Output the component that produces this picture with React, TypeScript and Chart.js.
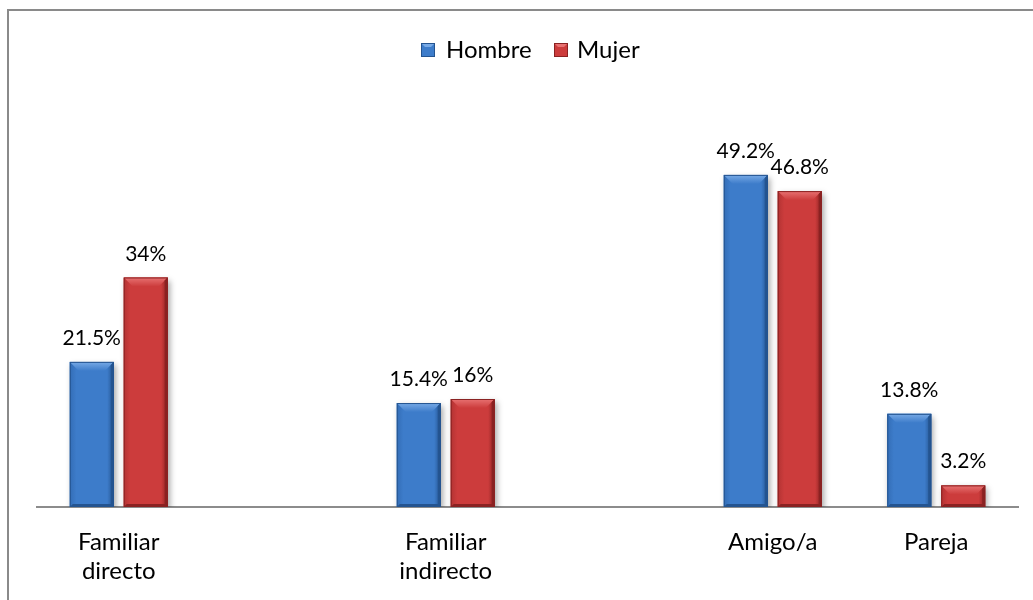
import React, { useEffect, useRef } from "react";
import { Chart, registerables } from "chart.js";

Chart.register(...registerables);

const categories: (string | string[])[] = [
  ["Familiar", "directo"],
  "",
  ["Familiar", "indirecto"],
  "",
  "Amigo/a",
  "Pareja",
];
const hombre: (number | null)[] = [21.5, null, 15.4, null, 49.2, 13.8];
const mujer: (number | null)[] = [34, null, 16, null, 46.8, 3.2];
const hombreLabels: string[] = ["21.5%", "", "15.4%", "", "49.2%", "13.8%"];
const mujerLabels: string[] = ["34%", "", "16%", "", "46.8%", "3.2%"];
const seriesNames = ["Hombre", "Mujer"];

const FONT = "Lato, 'Open Sans', sans-serif";
const FSIZE = 24;
const LABEL_SIZE = 21;

const palette = [
  { main: "#3d7cca", light: "#78aae6", dark: "#245490", side: "#336db6" },
  { main: "#cc3c3c", light: "#e87272", dark: "#8a2222", side: "#b33333" },
];

const bevelPlugin = {
  id: "bevel",
  beforeDatasetsDraw(chart: any) {
    const ctx = chart.ctx;
    ctx.save();
    ctx.shadowColor = "rgba(0,0,0,0.35)";
    ctx.shadowBlur = 6;
    ctx.shadowOffsetX = 2;
    ctx.shadowOffsetY = 3;
  },
  afterDatasetsDraw(chart: any) {
    const ctx = chart.ctx;
    ctx.restore();
    chart.data.datasets.forEach((ds: any, di: number) => {
      const meta = chart.getDatasetMeta(di);
      const c = palette[di];
      meta.data.forEach((bar: any, i: number) => {
        if (ds.data[i] == null) return;
        const { x, y, base, width } = bar.getProps(["x", "y", "base", "width"], true);
        const x0 = x - width / 2;
        const x1 = x + width / 2;
        const y0 = y;
        const y1 = base;
        const h = y1 - y0;
        const b = Math.min(9, h / 2, width / 2);
        ctx.save();
        const g = ctx.createLinearGradient(x0, 0, x1, 0);
        g.addColorStop(0, c.side);
        g.addColorStop(0.15, c.main);
        g.addColorStop(0.85, c.main);
        g.addColorStop(1, c.dark);
        ctx.fillStyle = g;
        ctx.fillRect(x0, y0, width, h);
        const tg = ctx.createLinearGradient(0, y0, 0, y0 + b);
        tg.addColorStop(0, c.light);
        tg.addColorStop(1, c.main);
        ctx.fillStyle = tg;
        ctx.beginPath();
        ctx.moveTo(x0, y0);
        ctx.lineTo(x1, y0);
        ctx.lineTo(x1 - b, y0 + b);
        ctx.lineTo(x0 + b, y0 + b);
        ctx.closePath();
        ctx.fill();
        ctx.fillStyle = c.dark;
        ctx.beginPath();
        ctx.moveTo(x1, y0);
        ctx.lineTo(x1 - 3, y0 + 3);
        ctx.lineTo(x1 - 3, y1);
        ctx.lineTo(x1, y1);
        ctx.closePath();
        ctx.fill();
        ctx.beginPath();
        ctx.moveTo(x0, y1);
        ctx.lineTo(x1, y1);
        ctx.lineTo(x1 - 3, y1 - 3);
        ctx.lineTo(x0 + 3, y1 - 3);
        ctx.closePath();
        ctx.fill();
        ctx.strokeStyle = c.dark;
        ctx.lineWidth = 1;
        ctx.strokeRect(x0 + 0.5, y0 + 0.5, width - 1, h - 1);
        ctx.restore();
      });
    });
    ctx.save();
    ctx.font = `${LABEL_SIZE}px ${FONT}`;
    ctx.fillStyle = "#000";
    ctx.textAlign = "center";
    ctx.textBaseline = "alphabetic";
    const labelSets = [hombreLabels, mujerLabels];
    chart.data.datasets.forEach((ds: any, di: number) => {
      const meta = chart.getDatasetMeta(di);
      meta.data.forEach((bar: any, i: number) => {
        if (ds.data[i] == null) return;
        const { x, y } = bar.getProps(["x", "y"], true);
        ctx.fillText(labelSets[di][i], x, y - 17);
      });
    });
    ctx.restore();
  },
  afterDraw(chart: any) {
    const ctx = chart.ctx;
    ctx.save();
    const items = [
      { sx: 421, tx: 446 },
      { sx: 554, tx: 577 },
    ];
    items.forEach((it, i) => {
      const c = palette[i];
      const x0 = it.sx, y0 = 43, w = 14, h = 14;
      ctx.fillStyle = c.main;
      ctx.fillRect(x0, y0, w, h);
      ctx.fillStyle = c.light;
      ctx.beginPath();
      ctx.moveTo(x0, y0);
      ctx.lineTo(x0 + w, y0);
      ctx.lineTo(x0 + w - 4, y0 + 4);
      ctx.lineTo(x0 + 4, y0 + 4);
      ctx.closePath();
      ctx.fill();
      ctx.strokeStyle = c.dark;
      ctx.lineWidth = 1;
      ctx.strokeRect(x0 + 0.5, y0 + 0.5, w - 1, h - 1);
      ctx.fillStyle = "#000";
      ctx.font = `${FSIZE}px ${FONT}`;
      ctx.textAlign = "left";
      ctx.textBaseline = "alphabetic";
      ctx.fillText(seriesNames[i], it.tx, 58);
    });
    ctx.restore();
  },
};

export default function App() {
  const ref = useRef<HTMLCanvasElement | null>(null);
  useEffect(() => {
    if (!ref.current) return;
    const chart = new Chart(ref.current, {
      type: "bar",
      data: {
        labels: categories,
        datasets: [
          {
            label: seriesNames[0],
            data: hombre,
            backgroundColor: palette[0].main,
            categoryPercentage: 0.66,
            barPercentage: 0.815,
          },
          {
            label: seriesNames[1],
            data: mujer,
            backgroundColor: palette[1].main,
            categoryPercentage: 0.66,
            barPercentage: 0.815,
          },
        ],
      },
      options: {
        animation: false,
        responsive: false,
        maintainAspectRatio: false,
        layout: { padding: { left: 37, right: 15, top: 102, bottom: 0 } },
        plugins: {
          legend: { display: false },
          tooltip: { enabled: false },
        },
        scales: {
          x: {
            grid: { display: false, drawTicks: false },
            border: { display: true, color: "#8c8c8c", width: 2 },
            ticks: {
              color: "#000",
              font: { family: FONT, size: FSIZE, lineHeight: 1.2 },
              padding: 21,
              maxRotation: 0,
              autoSkip: false,
            },
            afterFit: (s: any) => {
              s.height = 93;
            },
          },
          y: {
            display: false,
            min: 0,
            max: 60,
          },
        },
      },
      plugins: [bevelPlugin],
    });
    return () => chart.destroy();
  }, []);
  return (
    <div style={{ position: "fixed", left: 0, top: 0, width: 1033, height: 600, background: "#fff", overflow: "hidden" }}>
      <div
        style={{
          position: "absolute",
          left: 7,
          top: 9,
          right: -10,
          bottom: -10,
          borderLeft: "2px solid #8a8a8a",
          borderTop: "2px solid #8a8a8a",
        }}
      />
      <canvas ref={ref} width={1033} height={600} style={{ position: "absolute", left: 0, top: 0 }} />
    </div>
  );
}
